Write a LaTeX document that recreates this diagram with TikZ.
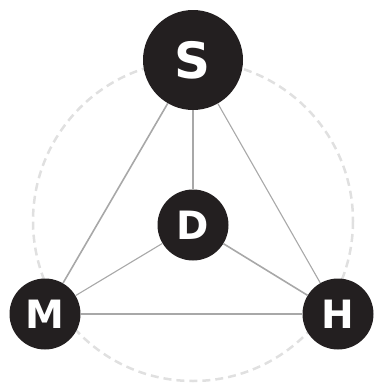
\documentclass[tikz,border=0pt]{standalone}
\usepackage{fontspec}
\setmainfont{DejaVu Sans}
\definecolor{nodefill}{HTML}{231F20}
\definecolor{edgecol}{HTML}{A8A8A8}
\definecolor{ringcol}{HTML}{E0E0E0}
\begin{document}
\begin{tikzpicture}[x=1pt,y=-1pt,
  vert/.style={circle,fill=nodefill,text=white,inner sep=0pt,font=\bfseries},
  small/.style={vert,minimum size=71pt,font=\fontsize{39}{39}\selectfont\bfseries},
  big/.style={vert,minimum size=100pt,font=\fontsize{50}{50}\selectfont\bfseries},
  edge/.style={draw=edgecol,line width=1.1pt},
  thick edge/.style={draw=edgecol,line width=1.6pt}]
\useasboundingbox (0,0) rectangle (373,383);
\draw[ringcol,line width=2.5pt,dash pattern=on 8pt off 5pt] (193,221) circle (160);
\node[big] (S) at (193,60) {S};
\node[small] (D) at (193,225) {D};
\node[small] (M) at (45,314) {M};
\node[small] (H) at (338,314) {H};
\path[thick edge] (S) -- (M);
\path[edge] (S) -- (D);
\path[edge] (S) -- (H);
\path[edge] (D) -- (M);
\path[thick edge] (D) -- (H);
\path[edge] (M) -- (H);
\end{tikzpicture}
\end{document}
